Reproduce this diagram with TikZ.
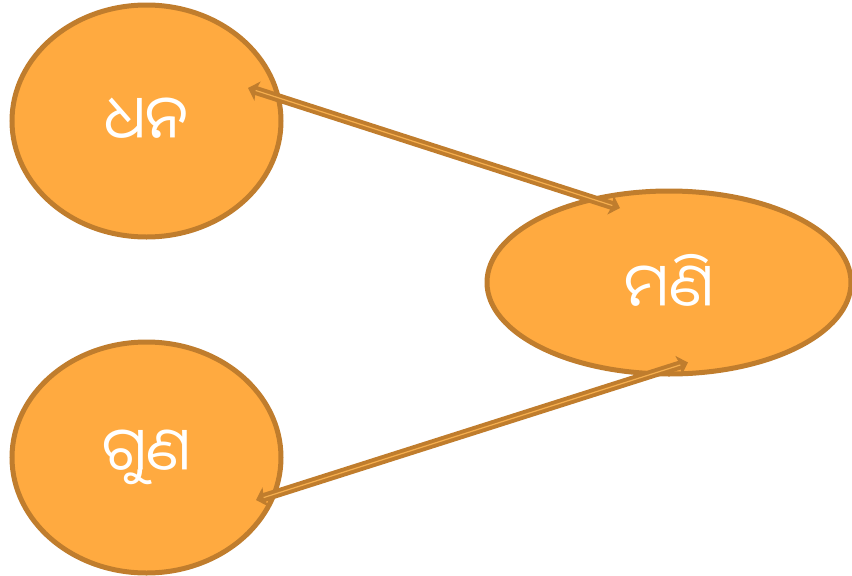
\documentclass[tikz,border=0pt]{standalone}
\usepackage{fontspec}
\newfontfamily\odia[Script=Oriya]{Noto Sans Oriya UI}
\usetikzlibrary{arrows.meta,shapes.geometric,calc}
\definecolor{fillor}{HTML}{FFAA40}
\definecolor{edgebr}{HTML}{C07D2D}
\definecolor{innerl}{HTML}{F5AE4E}
\tikzset{
  blob/.style={ellipse, fill=fillor, draw=edgebr, line width=5pt, inner sep=0pt,
    font=\odia\fontsize{60}{66}\selectfont, text=white},
  link/.style={draw=edgebr, line width=9pt,
    {Stealth[length=10pt,width=20pt,inset=2pt]}-{Stealth[length=10pt,width=20pt,inset=2pt]}},
  linkin/.style={draw=innerl, line width=1.2pt}
}
\begin{document}
\begin{tikzpicture}[x=1pt,y=-1pt]
\useasboundingbox (0,0) rectangle (852,576);
\node[blob, minimum width=269pt, minimum height=232pt] (dhana) at (146.5,121) {ଧନ};
\node[blob, minimum width=269pt, minimum height=231pt] (guna) at (146.5,457.5) {ଗୁଣ};
\node[blob, minimum width=364pt, minimum height=183pt] (mani) at (669,282.5) {ମଣି};
\coordinate (a1) at ($(dhana.center)+(101.5,-33)$);
\coordinate (a2) at ($(mani.center)+(-49,-74.5)$);
\coordinate (b1) at ($(mani.center)+(19,80)$);
\coordinate (b2) at ($(guna.center)+(109.5,42.5)$);
\draw[link] (a1) -- (a2);
\draw[linkin, shorten <=8pt, shorten >=8pt] (a1) -- (a2);
\draw[link] (b1) -- (b2);
\draw[linkin, shorten <=8pt, shorten >=8pt] (b1) -- (b2);
\end{tikzpicture}
\end{document}
